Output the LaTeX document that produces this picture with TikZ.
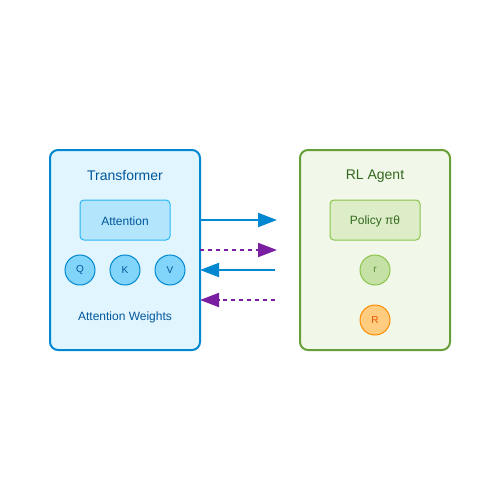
\documentclass[tikz,border=0pt]{standalone}
\usepackage{fontspec}
\setmainfont{Liberation Sans}
\usetikzlibrary{arrows.meta}
\definecolor{tfline}{HTML}{0288D1}
\definecolor{tffill}{HTML}{E1F5FE}
\definecolor{tftext}{HTML}{01579B}
\definecolor{attfill}{HTML}{B3E5FC}
\definecolor{attline}{HTML}{29B6F6}
\definecolor{qkvfill}{HTML}{81D4FA}
\definecolor{rlline}{HTML}{689F38}
\definecolor{rlfill}{HTML}{F1F8E9}
\definecolor{rltext}{HTML}{33691E}
\definecolor{polfill}{HTML}{DCEDC8}
\definecolor{polline}{HTML}{8BC34A}
\definecolor{rfill}{HTML}{C5E1A5}
\definecolor{rtext}{HTML}{558B2F}
\definecolor{bigrfill}{HTML}{FFCC80}
\definecolor{bigrline}{HTML}{FB8C00}
\definecolor{bigrtext}{HTML}{E65100}
\definecolor{msgpurple}{HTML}{7B1FA2}
\tikzset{
  panel/.style={draw, line width=2pt, rounded corners=8pt, minimum width=150pt, minimum height=200pt, outer sep=0pt},
  inner/.style={draw, line width=1pt, rounded corners=4pt, minimum width=90pt, minimum height=40pt, outer sep=0pt, font=\fontsize{12}{14}\selectfont},
  token/.style={circle, draw, line width=1pt, minimum size=30pt, inner sep=0pt, font=\fontsize{10}{12}\selectfont},
  title/.style={font=\fontsize{14}{16}\selectfont},
  fwd/.style={line width=2pt, tfline, -{Triangle[length=19pt,width=14pt]}},
  fb/.style={line width=2pt, msgpurple, dash pattern=on 4pt off 4pt, -{Triangle[length=19pt,width=14pt]}}
}

\begin{document}
\begin{tikzpicture}[x=1pt,y=-1pt]
  \useasboundingbox[fill=white] (0,0) rectangle (500,500);
  % Transformer side
  \node[panel, tfline, fill=tffill] (trans) at (125,250) {};
  \node[title, tftext] (transtitle) at (125,176) {Transformer};
  \node[inner, attline, fill=attfill, text=tftext] (attn) at (125,220) {};
  \node[tftext, font=\fontsize{12}{14}\selectfont] (attnlabel) at (125,221) {Attention};
  \foreach \t [count=\i] in {Q,K,V} {
    \node[token, tfline, fill=qkvfill, text=tftext] (\t) at (35+45*\i,270) {\t};
  }
  \node[tftext, font=\fontsize{12}{14}\selectfont] (weights) at (125,317) {Attention Weights};
  % RL agent side
  \node[panel, rlline, fill=rlfill] (agent) at (375,250) {};
  \node[title, rltext] (agenttitle) at (375,176) {RL Agent};
  \node[inner, polline, fill=polfill] (policy) at (375,220) {};
  \node[rltext, font=\fontsize{12}{14}\selectfont] (pollabel) at (375,221) {Policy πθ};
  \node[token, polline, fill=rfill, text=rtext] (r) at (375,270) {r};
  \node[token, bigrline, fill=bigrfill, text=bigrtext] (R) at (375,320) {R};
  % Messages
  \coordinate (out1) at (277,220);
  \coordinate (out2) at (277,250);
  \coordinate (in1) at (275,270);
  \coordinate (in2) at (275,300);
  \draw[fwd] (trans.east |- out1) -- (out1);
  \draw[fb] (trans.east |- out2) -- (out2);
  \draw[fwd] (in1) -- (trans.east |- in1);
  \draw[fb] (in2) -- (trans.east |- in2);
\end{tikzpicture}
\end{document}
